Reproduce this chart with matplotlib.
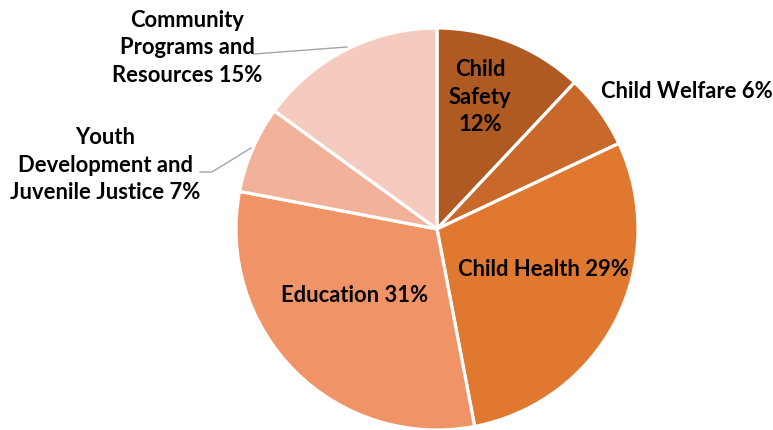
import matplotlib.pyplot as plt

labels = ["Child\nSafety\n12%", "Child Welfare 6%", "Child Health 29%", "Education 31%",
          "Youth\nDevelopment and\nJuvenile Justice 7%", "Community\nPrograms and\nResources 15%"]
shares = [12, 6, 29, 31, 7, 15]
colors = ["#B05A23", "#C8692B", "#E0782F", "#F09467", "#F2B29A", "#F6CBBF"]

W, H = 773, 430
fig = plt.figure(figsize=(W / 100, H / 100), dpi=100)
ax = fig.add_axes([0, 0, 1, 1])

cx, cy, r = 437, H - 229, 201
wedges, _ = ax.pie(shares, colors=colors, startangle=90, counterclock=False,
                   center=(cx, cy), radius=r, frame=True,
                   wedgeprops=dict(edgecolor="white", linewidth=2.3))
ax.set_xlim(0, W)
ax.set_ylim(0, H)
ax.axis("off")

font = dict(family=["Lato", "DejaVu Sans"], fontweight="bold", fontsize=15.8, color="black",
            ha="center", va="center", linespacing=1.4)

# label positions in pixels (from top-left)
pos = [(480, 97), (687, 92), (543, 270), (355, 296), (105, 165), (187, 48)]
for lab, (px, py) in zip(labels, pos):
    ax.text(px, H - py, lab, **font)

# leader lines
ax.plot([254, 347], [H - 54, H - 47], color="#A6A6A6", lw=1)
ax.plot([200, 212, 251], [H - 172, H - 172, H - 148], color="#A6A6A6", lw=1)

fig.savefig("out.png", dpi=100)
